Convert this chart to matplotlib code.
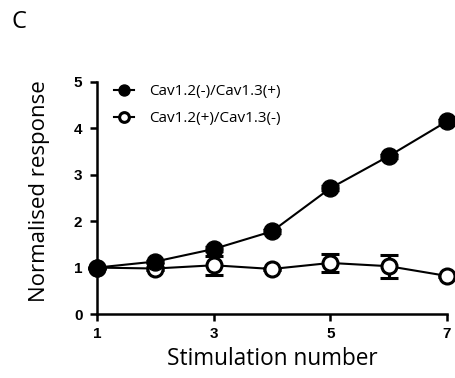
import matplotlib.pyplot as plt

# ---------- data ---------- #
stim = [1, 2, 3, 4, 5, 6, 7]
cav12_neg = [1.0, 1.13, 1.40, 1.78, 2.71, 3.40, 4.15]
cav12_neg_err = [0.0, 0.04, 0.06, 0.05, 0.06, 0.05, 0.06]
cav12_pos = [1.0, 0.98, 1.05, 0.97, 1.10, 1.03, 0.82]
cav12_pos_err = [0.0, 0.03, 0.20, 0.03, 0.20, 0.25, 0.03]
xticks = [1, 3, 5, 7]
yticks = [0, 1, 2, 3, 4, 5]

LABEL_FONT = 'Open Sans'
TICK_FONT = 'Liberation Sans'

fig = plt.figure(figsize=(4.56, 3.78), dpi=100)
ax = fig.add_axes([0.2127, 0.1693, 0.7675, 0.614])

ax.errorbar(stim, cav12_pos, yerr=cav12_pos_err, fmt='-o', color='black',
            mfc='white', mec='black', mew=2.2, ms=10.8, lw=1.5,
            elinewidth=2.2, capsize=6.5, capthick=2.4, clip_on=False, zorder=3,
            label='Cav1.2(+)/Cav1.3(-)')
ax.errorbar(stim, cav12_neg, yerr=cav12_neg_err, fmt='-o', color='black',
            mfc='black', mec='black', mew=1, ms=12.2, lw=1.5,
            elinewidth=2.2, capsize=6.5, capthick=2.4, clip_on=False, zorder=4,
            label='Cav1.2(-)/Cav1.3(+)')

ax.set_xlim(1, 7)
ax.set_ylim(0, 5)
ax.set_xticks(xticks)
ax.set_yticks(yticks)
for s in ['top', 'right']:
    ax.spines[s].set_visible(False)
for s in ['left', 'bottom']:
    ax.spines[s].set_linewidth(1.8)
ax.tick_params(axis='y', width=1.8, length=5, direction='out', pad=5.5)
ax.tick_params(axis='x', width=1.8, length=5, direction='out', pad=4)
for lab in ax.get_xticklabels() + ax.get_yticklabels():
    lab.set_fontfamily(TICK_FONT)
    lab.set_fontweight('bold')
    lab.set_fontsize(11)

ax.set_xlabel('Stimulation number', fontsize=16.3, family=LABEL_FONT, labelpad=5)
ax.set_ylabel('Normalised response', fontsize=16, family=LABEL_FONT)
ax.yaxis.set_label_coords(-0.135, 0.53)

handles, labels = ax.get_legend_handles_labels()
handles = [h[0] for h in handles[::-1]]
labels = labels[::-1]
ax.legend(handles, labels, loc='upper left', bbox_to_anchor=(0.01, 1.05),
          frameon=False, handlelength=1.3, handletextpad=1.0, markerscale=0.65,
          labelspacing=0.78, prop={'family': LABEL_FONT, 'size': 11})

fig.text(0.025, 0.925, 'C', fontsize=17, family=LABEL_FONT, va='baseline')

fig.savefig('out.png', dpi=100)
